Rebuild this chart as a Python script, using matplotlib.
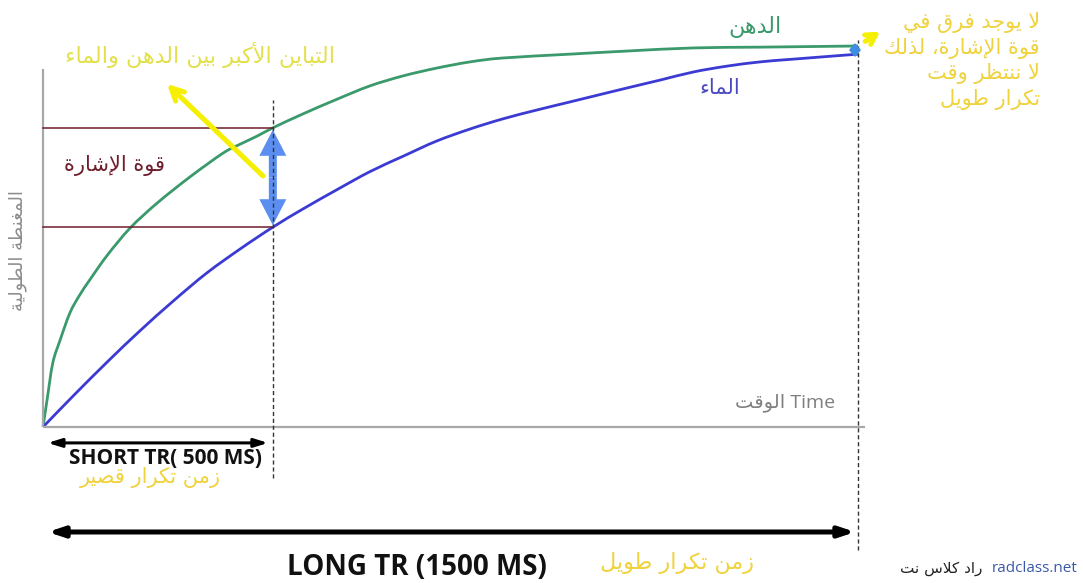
import matplotlib
matplotlib.use('Agg')
import matplotlib.pyplot as plt
from matplotlib.path import Path
from matplotlib.patches import PathPatch

# --- data (time normalised to long TR = 1, Mz normalised to 1) ---
t_fat = [0, 0.005, 0.012, 0.021, 0.033, 0.045, 0.058, 0.079, 0.107, 0.140, 0.180, 0.221,
         0.242, 0.263, 0.282, 0.319, 0.361, 0.401, 0.442, 0.483, 0.524, 0.564, 0.647,
         0.717, 0.798, 0.880, 1.0]
mz_fat = [0, 0.070, 0.165, 0.224, 0.294, 0.340, 0.381, 0.443, 0.513, 0.577, 0.644, 0.706,
          0.729, 0.750, 0.771, 0.807, 0.845, 0.879, 0.905, 0.925, 0.941, 0.951, 0.961,
          0.969, 0.977, 0.979, 0.982]
t_water = [0, 0.037, 0.079, 0.119, 0.160, 0.201, 0.242, 0.282, 0.319, 0.361, 0.401, 0.442,
           0.483, 0.524, 0.564, 0.606, 0.647, 0.717, 0.757, 0.798, 0.839, 0.880, 0.920, 1.0]
mz_water = [0, 0.080, 0.168, 0.248, 0.325, 0.397, 0.459, 0.515, 0.562, 0.612, 0.658, 0.698,
            0.737, 0.768, 0.794, 0.817, 0.838, 0.874, 0.894, 0.915, 0.930, 0.941, 0.948, 0.961]
tr_short = 0.282
tr_long = 1.0

lbl_fat = 'الدهن'
lbl_water = 'الماء'
lbl_signal = 'قوة الإشارة'
lbl_contrast = 'التباين الأكبر بين الدهن والماء'
lbl_ylabel = 'المغنطة الطولية'
lbl_time_ar = 'الوقت'
lbl_short = 'SHORT TR( 500 MS)'
lbl_short_ar = 'زمن تكرار قصير'
lbl_long = 'LONG TR (1500 MS)'
lbl_long_ar = 'زمن تكرار طويل'
note_lines = ['لا يوجد فرق في', 'قوة الإشارة، لذلك', 'لا ننتظر وقت', 'تكرار طويل']
site_ar = 'راد كلاس نت'
site = 'radclass.net'

# --- tiny arabic shaper (presentation forms + visual order) ---
FORMS = {0x0621: (0xFE80, 1), 0x0622: (0xFE81, 2), 0x0623: (0xFE83, 2), 0x0624: (0xFE85, 2),
         0x0625: (0xFE87, 2), 0x0626: (0xFE89, 4), 0x0627: (0xFE8D, 2), 0x0628: (0xFE8F, 4),
         0x0629: (0xFE93, 2), 0x062A: (0xFE95, 4), 0x062B: (0xFE99, 4), 0x062C: (0xFE9D, 4),
         0x062D: (0xFEA1, 4), 0x062E: (0xFEA5, 4), 0x062F: (0xFEA9, 2), 0x0630: (0xFEAB, 2),
         0x0631: (0xFEAD, 2), 0x0632: (0xFEAF, 2), 0x0633: (0xFEB1, 4), 0x0634: (0xFEB5, 4),
         0x0635: (0xFEB9, 4), 0x0636: (0xFEBD, 4), 0x0637: (0xFEC1, 4), 0x0638: (0xFEC5, 4),
         0x0639: (0xFEC9, 4), 0x063A: (0xFECD, 4), 0x0641: (0xFED1, 4), 0x0642: (0xFED5, 4),
         0x0643: (0xFED9, 4), 0x0644: (0xFEDD, 4), 0x0645: (0xFEE1, 4), 0x0646: (0xFEE5, 4),
         0x0647: (0xFEE9, 4), 0x0648: (0xFEED, 2), 0x0649: (0xFEEF, 2), 0x064A: (0xFEF1, 4)}
LAM_ALEF = {0x0622: 0xFEF5, 0x0623: 0xFEF7, 0x0625: 0xFEF9, 0x0627: 0xFEFB}


def shape(s):
    units = []
    i = 0
    while i < len(s):
        c = ord(s[i])
        if c == 0x0644 and i + 1 < len(s) and ord(s[i + 1]) in LAM_ALEF:
            units.append((LAM_ALEF[ord(s[i + 1])], 2))
            i += 2
            continue
        units.append(FORMS.get(c, s[i]))
        i += 1
    out = []
    for k, u in enumerate(units):
        if isinstance(u, str):
            out.append(u)
            continue
        base, n = u
        prev = units[k - 1] if k > 0 else None
        nxt = units[k + 1] if k + 1 < len(units) else None
        jp = isinstance(prev, tuple) and prev[1] == 4 and n > 1
        jn = n == 4 and isinstance(nxt, tuple) and nxt[1] > 1
        if jp and jn:
            cp = base + 3
        elif jp:
            cp = base + 1
        elif jn:
            cp = base + 2
        else:
            cp = base
        out.append(chr(cp))
    return ''.join(reversed(out))


def smooth_curve(ax, xs, ys, **kw):
    # draw the read points joined by catmull-rom style bezier segments
    pts = list(zip(xs, ys))
    verts = [pts[0]]
    codes = [Path.MOVETO]
    for k in range(len(pts) - 1):
        p0 = pts[max(k - 1, 0)]
        p1 = pts[k]
        p2 = pts[k + 1]
        p3 = pts[min(k + 2, len(pts) - 1)]
        c1 = (p1[0] + (p2[0] - p0[0]) / 6, p1[1] + (p2[1] - p0[1]) / 6)
        c2 = (p2[0] - (p3[0] - p1[0]) / 6, p2[1] - (p3[1] - p1[1]) / 6)
        verts += [c1, c2, p2]
        codes += [Path.CURVE4] * 3
    ax.add_patch(PathPatch(Path(verts, codes), facecolor='none', **kw))


AR = ['DejaVu Sans']
LAT = ['Open Sans', 'DejaVu Sans']

fig = plt.figure(figsize=(10.83, 5.83), dpi=100)
ax = fig.add_axes([0, 0, 1, 1])
ax.set_xlim(-43 / 815, 1040 / 815)
ax.set_ylim(-156 / 388, 427 / 388)
ax.axis('off')

green = '#3b9a6c'
blue = '#3b3bd4'
brown = '#6e1e2c'
gold = '#f0d23c'
lime = '#e3e04a'

# axes
ax.plot([0, 0], [0, 0.923], color='#a8a8a8', lw=1.6, solid_capstyle='butt')
ax.plot([0, 1.009], [0, 0], color='#a8a8a8', lw=1.6, solid_capstyle='butt')

# signal-level guides
i_s = t_fat.index(tr_short)
j_s = t_water.index(tr_short)
ax.plot([0, tr_short], [mz_fat[i_s]] * 2, color=brown, lw=1.1)
ax.plot([0, tr_short], [mz_water[j_s]] * 2, color=brown, lw=1.1)

# TR markers
ax.plot([tr_short, tr_short], [-0.131, 0.843], color='#333333', lw=1, ls=(0, (3, 2)))
ax.plot([tr_long, tr_long], [-0.317, 0.997], color='#333333', lw=1, ls=(0, (3, 2)))

# curves
smooth_curve(ax, t_fat, mz_fat, edgecolor=green, lw=2)
smooth_curve(ax, t_water, mz_water, edgecolor=blue, lw=2)

# contrast double arrow
mid = (mz_fat[i_s] + mz_water[j_s]) / 2
for end in (mz_fat[i_s] - 0.005, mz_water[j_s] + 0.005):
    ax.arrow(tr_short, mid, 0, end - mid, width=8 / 815, head_width=27 / 815,
             head_length=26 / 388, length_includes_head=True, color='#5b8ef0', lw=0)

# small arrow at long TR
ax.annotate('', xy=(1.0 - 3 / 815, mz_fat[-1] + 0.015), xytext=(1.0 - 3 / 815, mz_water[-1] - 0.015),
            arrowprops=dict(arrowstyle='<|-|>,head_length=0.35,head_width=0.3', color='#3d8de0', lw=2))

# yellow arrows
ax.annotate('', xy=(0.1497, 0.889), xytext=(0.2724, 0.642),
            arrowprops=dict(arrowstyle='->,head_length=0.9,head_width=0.45', color='#f5ef00', lw=3.6))
ax.annotate('', xy=(1.030, 1.023), xytext=(1.006, 0.990),
            arrowprops=dict(arrowstyle='->,head_length=0.7,head_width=0.4', color='#f5ef00', lw=3.6))

# TR arrows
ax.annotate('', xy=(tr_short - 2 / 815, -0.041), xytext=(2 / 815, -0.041),
            arrowprops=dict(arrowstyle='<|-|>,head_length=0.8,head_width=0.25', color='black', lw=2.2))
ax.annotate('', xy=(tr_long, -0.2706), xytext=(2 / 815, -0.2706),
            arrowprops=dict(arrowstyle='<|-|>,head_length=0.9,head_width=0.3', color='black', lw=3.6))

# texts
ax.text(0.1497, -0.080, lbl_short, ha='center', va='center', fontsize=15,
        fontweight='bold', family=LAT, color='#111111')
ax.text(0.1313, -0.131, shape(lbl_short_ar), ha='center', va='center', fontsize=15,
        family=AR, color=gold)
ax.text(0.4589, -0.361, lbl_long, ha='center', va='center', fontsize=20,
        fontweight='bold', family=LAT, color='#111111')
ax.text(0.778, -0.351, shape(lbl_long_ar), ha='center', va='center', fontsize=16,
        family=AR, color=gold)
ax.text(0.9718, 0.062, shape(lbl_time_ar) + ' Time', ha='right', va='center', fontsize=14,
        family=LAT, color='#7f7f7f')
ax.text(-0.0307, 0.456, shape(lbl_ylabel), ha='center', va='center', rotation=90,
        fontsize=13, family=AR, color='#8c8c8c')
ax.text(0.0883, 0.675, shape(lbl_signal), ha='center', va='center', fontsize=15,
        family=AR, color=brown)
ax.text(0.1926, 0.959, shape(lbl_contrast), ha='center', va='center', fontsize=16,
        family=AR, color=lime)
ax.text(0.8736, 1.031, shape(lbl_fat), ha='center', va='center', fontsize=16,
        family=AR, color=green)
ax.text(0.8307, 0.874, shape(lbl_water), ha='center', va='center', fontsize=15,
        family=AR, color='#4a4ac0')
ax.text((1040 - 43) / 815, 1.07, '\n'.join(shape(l) for l in note_lines), ha='right', va='top',
        fontsize=15, family=AR, color=gold, linespacing=1.3, multialignment='right')
ax.text((982 - 43) / 815, -0.364, shape(site_ar), ha='right', va='center', fontsize=11,
        family=AR, color='#222222')
ax.text((1078 - 43) / 815, -0.364, site, ha='right', va='center', fontsize=11,
        family=LAT, color='#3a5aa8')

fig.savefig('out.png', dpi=100, facecolor='white')
